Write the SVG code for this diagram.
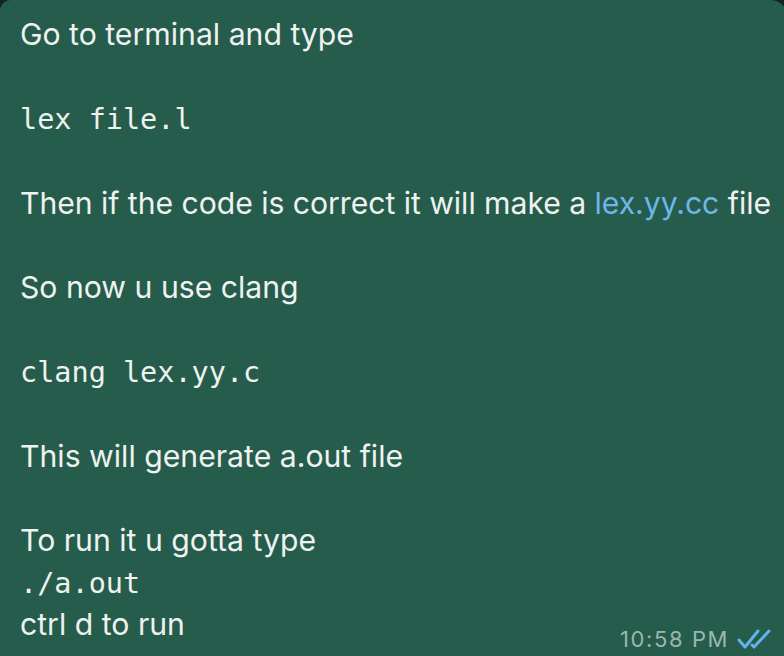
<svg xmlns="http://www.w3.org/2000/svg" width="784" height="656" viewBox="0 0 784 656">
<style>
.t{font-family:Inter,"Liberation Sans",sans-serif;font-size:30.2px;fill:#eef2f0}
.m{font-family:"DejaVu Sans Mono","Liberation Mono",monospace;font-size:28.5px;fill:#eef2f0}
.l{fill:#6cb6ea}
.ts{font-family:Inter,"Liberation Sans",sans-serif;font-size:22px;letter-spacing:1.6px;fill:#98b8ad}
</style>
<rect width="784" height="656" fill="#17212b"/>
<g id="bubble">
<path d="M0 11 A11 11 0 0 1 11 0 H770 A18 18 0 0 1 788 18 V670 H-4 V645 A18 18 0 0 1 0 645 Z" fill="#265c4b"/>
</g>
<g id="message">
<text class="t" x="20" y="45">Go to terminal and type</text>
<text class="m" x="20" y="129">lex file.l</text>
<text class="t" x="20" y="214" textLength="751" lengthAdjust="spacing">Then if the code is correct it will make a <tspan class="l">lex.yy.cc</tspan> file</text>
<text class="t" x="20" y="298">So now u use clang</text>
<text class="m" x="20" y="382">clang lex.yy.c</text>
<text class="t" x="20" y="467">This will generate a.out file</text>
<text class="t" x="20" y="551">To run it u gotta type</text>
<text class="m" x="20" y="593">./a.out</text>
<text class="t" x="20" y="635">ctrl d to run</text>
</g>
<g id="meta">
<text class="ts" x="620" y="647">10:58 PM</text>
<g fill="none" stroke="#5fb4ea" stroke-width="3" stroke-linecap="round" stroke-linejoin="round">
<path d="M739 640 L745 647 L758 631"/>
<path d="M752 645 L754 647 L769 631"/>
</g>
</g>
<g id="connectors"/>
</svg>
